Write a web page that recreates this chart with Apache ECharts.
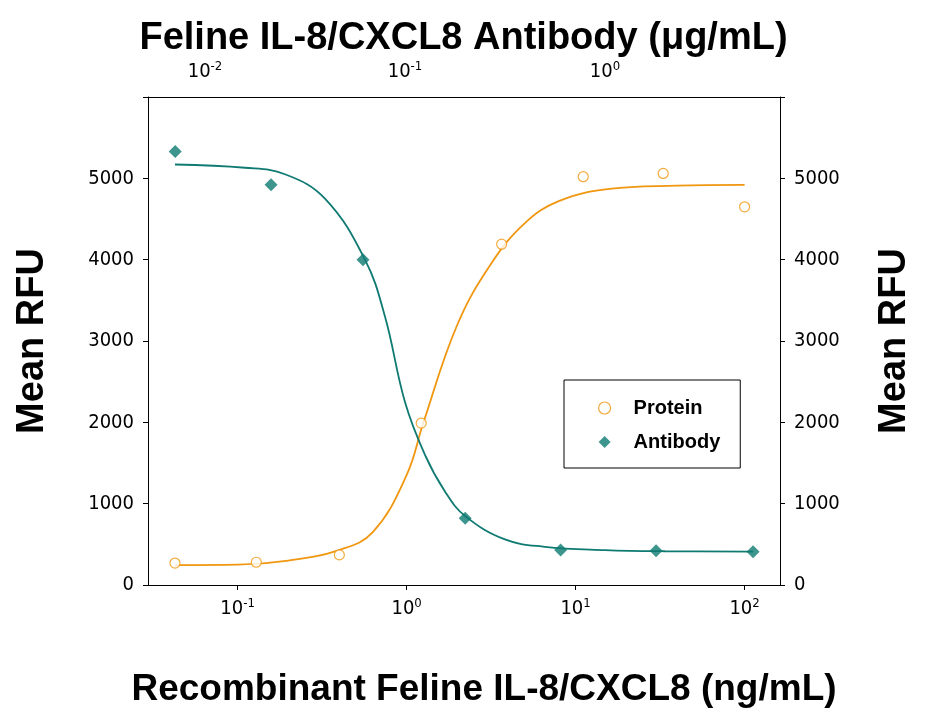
<!DOCTYPE html><html><head><meta charset="utf-8"><script src="https://cdn.jsdelivr.net/npm/echarts@6/dist/echarts.min.js"></script>
<style>body{margin:0}#c{width:927px;height:718px}</style></head><body><div id="c"></div><script>
const proteinX=[0.0426,0.129,0.40,1.22,3.65,11.1,33,100];
const proteinY=[270,280,370,1990,4190,5020,5060,4650];
const antibodyX=[0.0071,0.0214,0.0617,0.2,0.6,1.8,5.5];
const antibodyY=[5330,4920,4000,820,430,420,410];
const proteinFitLogX=[-1.37,-1,-0.7,-0.4,-0.2,0,0.1,0.3,0.5,0.7,0.9,1.2,1.6,2];
const proteinFitY=[245,250,300,430,650,1350,2000,3200,3950,4450,4720,4870,4910,4920];
const antibodyFitLogX=[-2.15,-1.8,-1.6,-1.4,-1.2,-1.1,-1.0,-0.9,-0.8,-0.7,-0.5,-0.3,0,0.3,0.74];
const antibodyFitY=[5170,5130,5050,4750,4000,3300,2250,1600,1150,850,560,470,430,415,410];
const OR='#F0960F',TE='#0E7A72';
const lf='DejaVu Sans Condensed, Liberation Sans Narrow';
const sup=v=>{const l=Math.log10(v),e=Math.round(l);if(Math.abs(l-e)>1e-6)return '';return '{b|10}{s|'+e+'}';};
const rich={b:{fontSize:20,fontFamily:lf,color:'#000'},s:{fontSize:13,verticalAlign:'top',padding:[0,0,10,0],fontFamily:lf,color:'#000'}};
const c=echarts.init(document.getElementById('c'));
c.setOption({animation:false,backgroundColor:'#fff',
title:{text:'Feline IL-8/CXCL8 Antibody (\u03bcg/mL)',left:'center',top:15,textStyle:{fontSize:38,fontWeight:'bold',fontFamily:'Liberation Sans',color:'#000'}},
grid:{left:148,right:147,top:97,bottom:133},
legend:{orient:'vertical',left:564,top:380,width:205,height:88,padding:[18,20,16,34],itemGap:14,borderColor:'#000',borderWidth:1,
 data:[{name:'Protein',icon:'circle',itemStyle:{color:'#fff',borderColor:OR,borderWidth:1.2}},{name:'Antibody',icon:'diamond',itemStyle:{color:TE}}],
 itemWidth:12,itemHeight:12,textStyle:{fontSize:20,fontWeight:'bold',fontFamily:'Liberation Sans',color:'#000',padding:[0,0,0,18]}},
xAxis:[{type:'log',logBase:10,min:0.0295,max:162,position:'bottom',axisLine:{onZero:false,lineStyle:{color:'#000'}},axisTick:{length:5},minorTick:{show:false},splitLine:{show:false},
 axisLabel:{formatter:sup,rich:rich,margin:12,showMinLabel:false,showMaxLabel:false},name:'Recombinant Feline IL-8/CXCL8 (ng/mL)',nameLocation:'middle',nameGap:86,nameTextStyle:{fontSize:37,fontWeight:'bold',fontFamily:'Liberation Sans',color:'#000',padding:[0,0,0,40]}},
{type:'log',logBase:10,min:0.00519,max:7.5,position:'top',axisLine:{onZero:false,lineStyle:{color:'#000'}},axisTick:{show:false},splitLine:{show:false},axisLabel:{formatter:sup,rich:rich,margin:14,showMinLabel:false,showMaxLabel:false}}],
yAxis:[{type:'value',min:0,max:6000,interval:1000,position:'left',axisLine:{show:true,lineStyle:{color:'#000'}},axisTick:{show:true,length:5},splitLine:{show:false},
 axisLabel:{formatter:v=>v===6000?'':v,fontSize:20,fontFamily:lf,color:'#000',margin:14},name:'Mean RFU',nameLocation:'middle',nameGap:96,nameTextStyle:{fontSize:38,fontWeight:'bold',fontFamily:'Liberation Sans',color:'#000'}},
{type:'value',min:0,max:6000,interval:1000,position:'right',axisLine:{show:true,lineStyle:{color:'#000'}},axisTick:{show:true,length:5},splitLine:{show:false},
 axisLabel:{formatter:v=>v===6000?'':v,fontSize:20,fontFamily:lf,color:'#000',margin:14},name:'Mean RFU',nameLocation:'middle',nameGap:96,nameRotate:90,nameTextStyle:{fontSize:38,fontWeight:'bold',fontFamily:'Liberation Sans',color:'#000'}}],
series:[
{name:'ProteinFit',type:'line',xAxisIndex:0,smooth:0.4,showSymbol:false,symbol:'none',lineStyle:{color:OR,width:1.8},data:proteinFitLogX.map((l,i)=>[Math.pow(10,l),proteinFitY[i]]),silent:true},
{name:'AntibodyFit',type:'line',xAxisIndex:1,smooth:0.4,showSymbol:false,symbol:'none',lineStyle:{color:TE,width:1.8},data:antibodyFitLogX.map((l,i)=>[Math.pow(10,l),antibodyFitY[i]]),silent:true},
{name:'Protein',type:'scatter',xAxisIndex:0,symbol:'circle',symbolSize:10,itemStyle:{color:'#fff',borderColor:OR,borderWidth:1.2},data:proteinX.map((x,i)=>[x,proteinY[i]]),z:5},
{name:'Antibody',type:'scatter',xAxisIndex:1,symbol:'diamond',symbolSize:13,itemStyle:{color:TE},data:antibodyX.map((x,i)=>[x,antibodyY[i]]),z:5}]
});
</script></body></html>
